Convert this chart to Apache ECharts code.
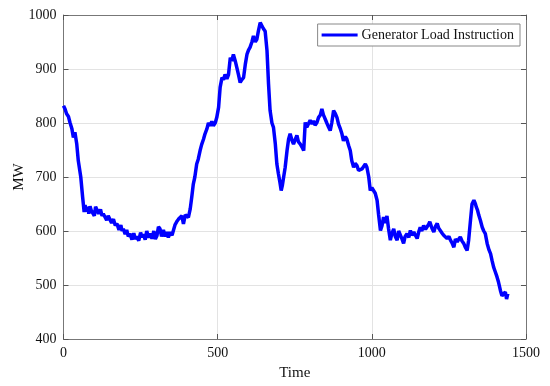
<!DOCTYPE html>
<html><head><meta charset="utf-8">
<script src="https://cdn.jsdelivr.net/npm/echarts@6/dist/echarts.min.js"></script>
<style>html,body{margin:0;padding:0;background:#fff}#c{width:550px;height:386px}</style>
</head><body><div id="c"></div>
<script>
const seriesName = 'Generator Load Instruction';
const xTicks = [0, 500, 1000, 1500];
const yTicks = [400, 500, 600, 700, 800, 900, 1000];
const time = [0,5,10,16,21,27,32,37,43,48,56,62,67,70,74,78,82,86,90,96,100,104,108,114,120,125,129,135,140,145,151,156,162,168,173,180,186,190,194,200,205,210,216,222,228,233,238,244,250,255,259,265,270,276,281,287,293,298,303,308,313,318,324,330,335,340,346,352,357,362,367,373,378,384,389,395,400,405,411,416,421,426,432,437,443,448,454,459,465,470,476,481,486,492,497,503,508,514,519,524,530,535,541,546,551,557,562,568,573,578,584,590,595,600,605,611,616,622,627,632,638,643,648,654,660,665,670,676,681,687,692,697,702,706,710,714,719,725,730,735,741,746,752,757,762,768,774,779,784,789,795,800,806,811,816,822,827,833,838,843,849,854,860,865,870,876,881,887,892,898,903,908,914,919,925,930,935,941,946,952,957,963,968,973,979,984,990,995,1000,1006,1011,1017,1022,1028,1033,1038,1044,1049,1054,1060,1065,1071,1076,1082,1087,1093,1098,1103,1108,1114,1120,1125,1130,1136,1141,1147,1152,1157,1162,1168,1174,1179,1184,1188,1195,1201,1206,1212,1217,1222,1228,1233,1238,1244,1250,1255,1260,1266,1271,1277,1282,1287,1292,1298,1303,1309,1314,1320,1325,1331,1336,1339,1343,1347,1352,1358,1363,1368,1374,1380,1385,1390,1395,1400,1406,1411,1417,1422,1428,1433,1437,1441];
const load = [832,826,817,812,801,790,773,783,761,730,700,663,635,648,636,645,632,646,638,641,628,645,644,632,640,628,632,630,620,628,626,615,622,610,614,602,611,600,604,594,602,590,595,584,596,585,590,582,597,588,594,584,600,588,595,586,600,585,591,608,604,590,602,590,598,588,598,592,595,612,617,622,620,628,613,630,632,625,641,663,687,700,724,733,749,760,770,780,789,800,795,803,795,800,810,829,866,884,880,890,882,889,921,915,927,915,903,888,875,880,884,910,927,935,940,950,961,950,955,970,986,989,975,970,934,872,823,800,792,761,724,706,690,675,685,700,718,749,770,780,768,761,770,777,765,761,755,749,801,792,795,805,798,804,796,801,810,815,826,815,807,800,792,786,800,823,818,810,798,789,780,767,775,770,758,749,730,718,725,721,712,709,715,718,724,718,700,675,680,678,670,657,630,601,610,626,615,628,605,583,595,604,590,583,600,592,585,577,590,595,588,601,592,598,595,586,598,607,600,610,603,604,612,617,605,598,608,614,605,601,596,592,595,586,590,583,578,570,585,580,585,589,582,577,570,564,583,620,650,657,650,644,638,629,620,607,600,595,577,565,558,545,533,525,515,505,490,480,478,487,474,484];

const font = 'Liberation Serif, Times New Roman, serif';
const data = time.map((t, i) => [t, load[i]]);
const chart = echarts.init(document.getElementById('c'), null, {renderer: 'canvas'});
const frame = {show: true, onZero: false, lineStyle: {color: '#777', width: 1}};
const plain = v => String(v);
chart.setOption({
  animation: false,
  backgroundColor: '#fff',
  grid: {left: 63.5, right: 24, top: 15, bottom: 47, containLabel: false},
  legend: {
    right: 30, top: 24, orient: 'horizontal',
    backgroundColor: '#fff', borderColor: '#888', borderWidth: 1,
    padding: [4, 6, 4, 4], itemGap: 4,
    icon: 'rect', itemWidth: 36, itemHeight: 3,
    textStyle: {fontFamily: font, fontSize: 14, color: '#111', padding: [0, 0, 0, -1]},
    data: [seriesName]
  },
  xAxis: [{
    type: 'value', min: xTicks[0], max: xTicks[xTicks.length - 1], interval: 500,
    name: 'Time', nameLocation: 'middle', nameGap: 27, nameMoveOverlap: false,
    nameTextStyle: {fontFamily: font, fontSize: 15, color: '#111'},
    axisLine: frame, axisTick: {show: true, inside: true, length: 5, lineStyle: {color: '#555'}},
    axisLabel: {fontFamily: font, fontSize: 14, color: '#111', margin: 7, formatter: plain},
    splitLine: {show: true, lineStyle: {color: '#e3e3e3', width: 1}}
  }, {
    type: 'value', position: 'top', min: xTicks[0], max: xTicks[xTicks.length - 1], interval: 500,
    axisLine: frame, axisTick: {show: true, inside: true, length: 5, lineStyle: {color: '#555'}},
    axisLabel: {show: false}, splitLine: {show: false}
  }],
  yAxis: [{
    type: 'value', min: yTicks[0], max: yTicks[yTicks.length - 1], interval: 100,
    name: 'MW', nameLocation: 'middle', nameGap: 37, nameRotate: 90, nameMoveOverlap: false,
    nameTextStyle: {fontFamily: font, fontSize: 15, color: '#111'},
    axisLine: frame, axisTick: {show: true, inside: true, length: 5, lineStyle: {color: '#555'}},
    axisLabel: {fontFamily: font, fontSize: 14, color: '#111', margin: 7, formatter: plain},
    splitLine: {show: true, lineStyle: {color: '#e3e3e3', width: 1}}
  }, {
    type: 'value', position: 'right', min: yTicks[0], max: yTicks[yTicks.length - 1], interval: 100,
    axisLine: frame, axisTick: {show: true, inside: true, length: 5, lineStyle: {color: '#555'}},
    axisLabel: {show: false}, splitLine: {show: false}
  }],
  series: [{
    name: seriesName, type: 'line', data: data,
    showSymbol: false, symbol: 'none',
    lineStyle: {color: '#0000ff', width: 3.5},
    itemStyle: {color: '#0000ff'},
    z: 3
  }]
});
</script></body></html>
